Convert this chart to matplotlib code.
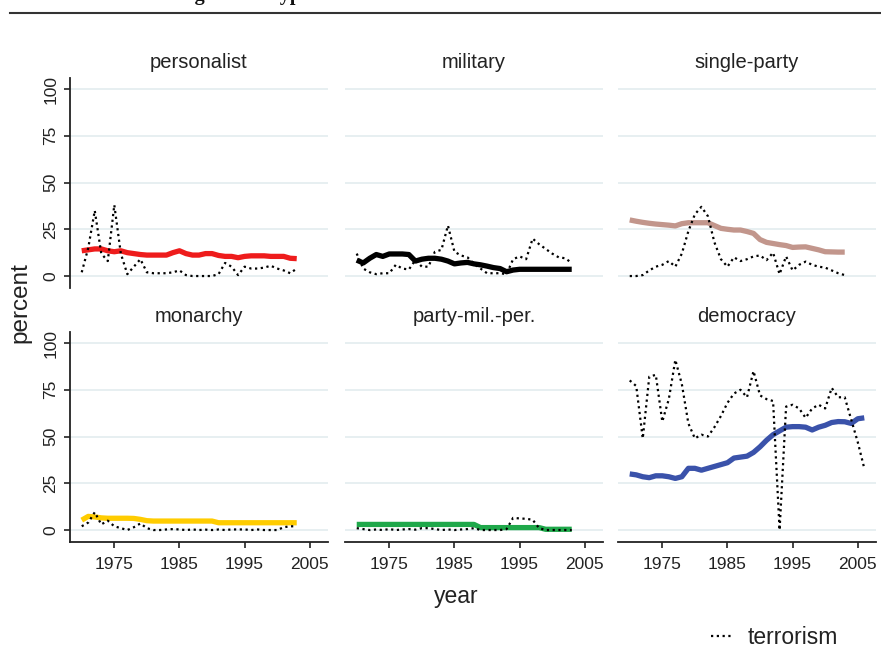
import matplotlib
matplotlib.use("Agg")
import matplotlib.pyplot as plt
from matplotlib.lines import Line2D

plt.rcParams['font.family'] = ['Liberation Sans', 'DejaVu Sans']

# ---------------- data ----------------
years = list(range(1970, 2004))
years_dem = list(range(1970, 2007))

personalist_regime = [13.5, 14, 14.5, 14.5, 13.5, 13, 13.5, 12.5, 12, 11.5,
                      11.2, 11.2, 11.2, 11.2, 12.5, 13.5, 12, 11.2, 11.2, 12,
                      12, 11, 10.5, 10.5, 9.8, 10.5, 10.8, 10.8, 10.8, 10.5,
                      10.5, 10.5, 9.5, 9.3]
personalist_terror = [2, 15, 35, 12, 8, 38, 12, 1, 5, 9,
                      2, 1.5, 1.5, 1.5, 2, 3, 0.5, 0, 0, 0,
                      0, 1, 7, 5, 0.5, 5, 4, 4, 4.5, 5.5,
                      4, 3, 1.5, 4]

military_regime = [8.5, 7, 9.5, 11.5, 10.5, 11.8, 11.8, 11.8, 11.5, 8,
                   9, 9.5, 9.5, 9, 8, 6.5, 7, 7.3, 6.5, 6,
                   5.3, 4.5, 4, 2.3, 3.2, 3.6, 3.6, 3.6, 3.6, 3.6,
                   3.6, 3.6, 3.6, 3.6]
military_terror = [12, 4, 2, 1, 1.5, 1.5, 6, 4, 3.5, 8.5,
                   5, 5, 13, 14, 27, 13, 11, 10, 6.5, 4,
                   1.5, 1.5, 1.5, 1, 9, 10.5, 9, 20, 17, 14.5,
                   12, 10, 9.5, 7]

singleparty_regime = [30, 29.3, 28.7, 28.2, 27.8, 27.5, 27.2, 26.8, 28, 28.5,
                      28.5, 28.5, 28.5, 27, 25.5, 25, 24.6, 24.6, 23.8, 22.8,
                      19.5, 18, 17.4, 16.8, 16.3, 15.3, 15.5, 15.6, 14.8, 14,
                      13, 12.9, 12.8, 12.8]
singleparty_terror = [0, 0, 0.5, 3, 5, 6, 8, 5, 12, 24,
                      33, 37, 32, 18, 9, 5, 10, 8, 9, 10.5,
                      11, 8.5, 12.5, 1, 10.5, 3, 6, 7.7, 6, 5,
                      4.5, 3, 1.5, 0.5]

monarchy_regime = [5.3, 7.3, 7, 6.5, 6.3, 6.3, 6.3, 6.3, 6.2, 5.7,
                   5, 4.8, 4.8, 4.8, 4.8, 4.8, 4.8, 4.8, 4.8, 4.8,
                   4.8, 3.9, 3.9, 3.9, 3.9, 3.9, 3.9, 3.9, 3.9, 3.9,
                   3.9, 3.9, 3.9, 3.9]
monarchy_terror = [2, 4, 9.5, 3, 5, 2, 1, 0, 1.5, 3.5,
                   1, 0, 0, 0.3, 0.5, 0.3, 0, 0.3, 0, 0.2,
                   0, 0.3, 0, 0.3, 0.3, 0.3, 0, 0.3, 0, 0,
                   0, 1.5, 2, 2]

pmp_regime = [3.0] * 19 + [1.3] * 10 + [0.4] * 5
pmp_terror = [1, 0.5, 0, 0.3, 0, 0.5, 0, 0.3, 0.5, 0.2,
              1, 1, 0.5, 0, 0.3, 0, 0.3, 0.5, 1, 0,
              0, 0, 0, 0.5, 6.5, 6.2, 6, 5.5, 1, 0,
              0, 0, 0, 0]

democracy_regime = [30, 29.5, 28.5, 28, 29, 29, 28.5, 27.6, 28.5, 33,
                    33, 32, 33, 34, 35, 36, 38.5, 39, 39.5, 41.5,
                    44.5, 48, 51, 53, 55, 55.3, 55.3, 55, 53.5, 55,
                    56, 57.5, 58, 57.9, 57, 59.5, 60]
democracy_terror = [80, 77, 49, 82, 83, 58, 70, 91, 78, 57,
                    49, 51, 50, 55, 61, 68, 73, 75, 71, 85,
                    72, 70, 69, 0, 66, 67, 65, 60, 65, 67,
                    65, 76, 71, 71, 59, 47, 33]

panel_titles = ["personalist", "military", "single-party",
                "monarchy", "party-mil.-per.", "democracy"]
yticks = [0, 25, 50, 75, 100]
xticks = [1975, 1985, 1995, 2005]

# ---------------- figure ----------------
W, H = 881, 666
fig = plt.figure(figsize=(W / 100, H / 100), dpi=100)

TXT = '#222222'
GRID = '#e5eef0'

panels = [
    (years, personalist_regime, personalist_terror, '#ee1c1c'),
    (years, military_regime, military_terror, '#000000'),
    (years, singleparty_regime, singleparty_terror, '#c2968c'),
    (years, monarchy_regime, monarchy_terror, '#ffcc00'),
    (years, pmp_regime, pmp_terror, '#1fa84a'),
    (years_dem, democracy_regime, democracy_terror, '#3a52aa'),
]

lefts = [70, 345, 618]
tops = [78, 332]
pw, ph = 258, 210
dot_style = (0, (1, 1.6))

for i, (x, reg, ter, col) in enumerate(panels):
    r, c = divmod(i, 3)
    ax = fig.add_axes([lefts[c] / W, 1 - (tops[r] + ph) / H, pw / W, ph / H])
    ax.set_xlim(1968.2, 2007.8)
    ax.set_ylim(-6.4, 105.9)
    ax.set_yticks(yticks)
    ax.set_xticks(xticks)
    ax.grid(axis='y', color=GRID, lw=1.3)
    ax.set_axisbelow(True)
    ax.plot(x, reg, color=col, lw=3.8, solid_capstyle='butt', zorder=3)
    ax.plot(x, ter, color='black', lw=1.6, linestyle=dot_style, zorder=4)
    for s in ['top', 'right']:
        ax.spines[s].set_visible(False)
    ax.spines['left'].set_visible(c == 0)
    ax.spines['bottom'].set_visible(r == 1)
    for s in ['left', 'bottom']:
        ax.spines[s].set_linewidth(1.3)
        ax.spines[s].set_color(TXT)
    ax.tick_params(axis='y', left=(c == 0), labelleft=(c == 0), length=4.5,
                   width=1.2, color=TXT, labelsize=12.5, labelcolor=TXT,
                   pad=4, labelrotation=90)
    for lab in ax.get_yticklabels():
        lab.set_va('center')
    ax.tick_params(axis='x', bottom=(r == 1), labelbottom=(r == 1), length=4.5,
                   width=1.2, color=TXT, labelsize=12.5, labelcolor=TXT, pad=6)
    ax.set_title(panel_titles[i], fontsize=14.5, color=TXT, pad=7.5)

fig.text(456 / W, 1 - 596 / H, 'year', ha='center', va='center',
         fontsize=16.5, color=TXT)
fig.text(20 / W, 1 - 303 / H, 'percent', rotation=90, ha='center',
         va='center', fontsize=17.5, color=TXT)

handle = Line2D([], [], color='black', lw=1.6, linestyle=dot_style)
fig.legend(handles=[handle], labels=['terrorism'], loc='center left',
           bbox_to_anchor=(711 / W, 1 - 638 / H), frameon=False,
           fontsize=16.5, handlelength=1.0, handletextpad=0.6,
           borderpad=0, borderaxespad=0, labelcolor=TXT)

# cut-off document heading and rule above the chart
fig.add_artist(Line2D([10 / W, 1], [1 - 12.5 / H] * 2, transform=fig.transFigure,
                      color='#333333', lw=1.5))
fig.text(72 / W, 1.0, 'Attacks Amongst Each type', ha='left',
         va='baseline', fontsize=14.5, fontweight='bold',
         family=['Liberation Serif', 'DejaVu Serif'], color='#111111')

fig.savefig('out.png', dpi=100)
